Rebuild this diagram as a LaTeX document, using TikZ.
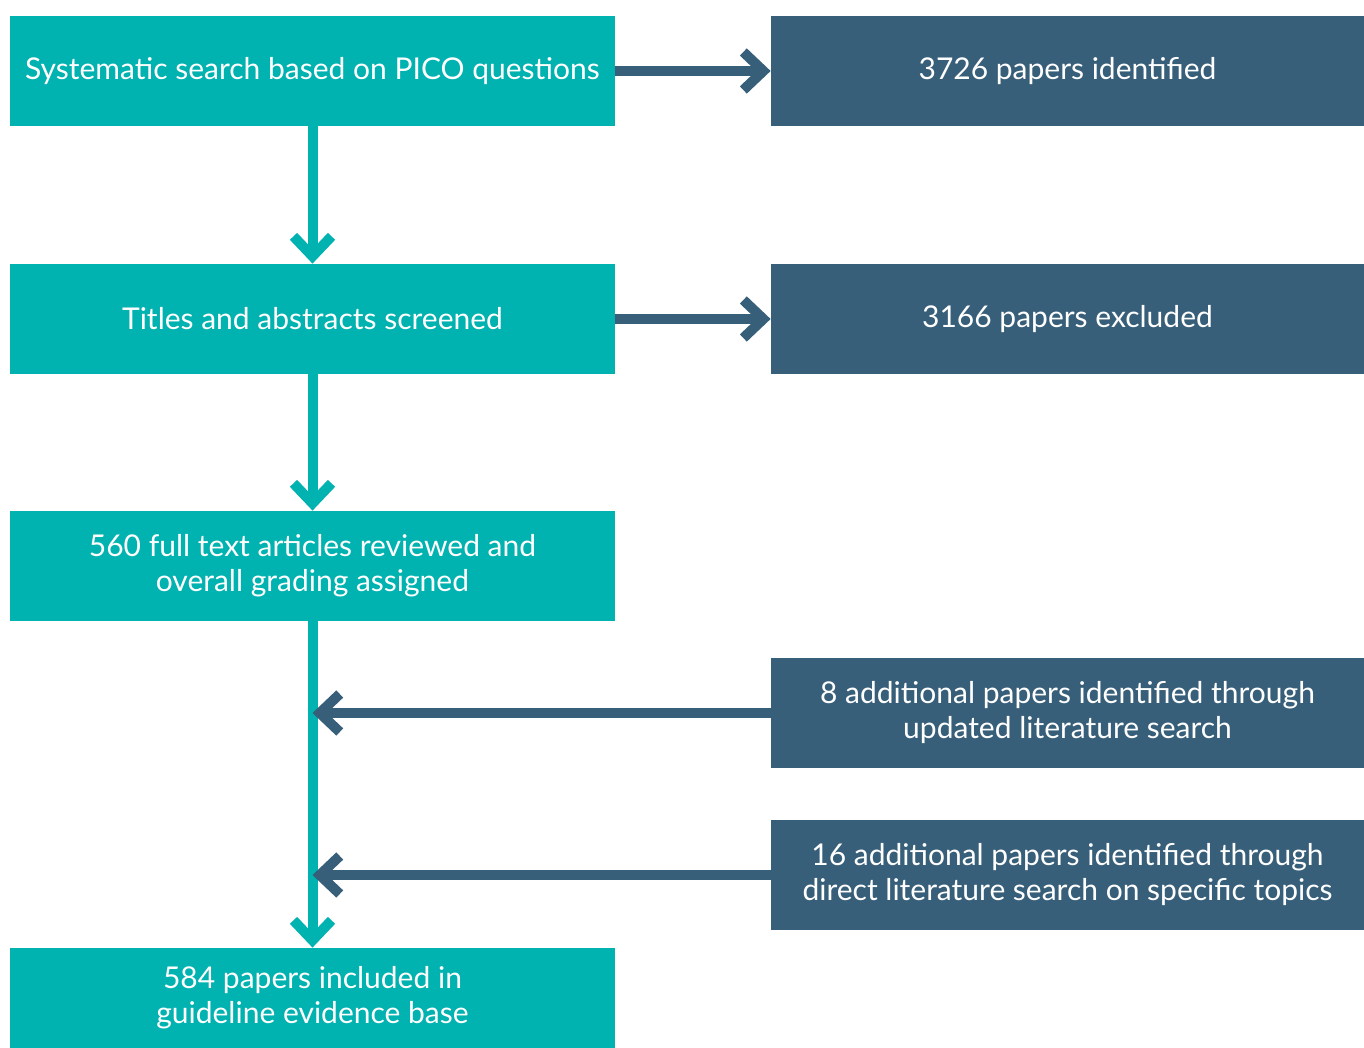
\documentclass[tikz,border=0pt]{standalone}
\usepackage{fontspec}
\setmainfont{Lato}
\usepackage{tikz}
\usetikzlibrary{arrows.meta}
\definecolor{tealbox}{RGB}{0,178,176}
\definecolor{slatebox}{RGB}{56,95,122}

\begin{document}
\begin{tikzpicture}[x=0.5pt, y=-0.5pt,
		box/.style={rectangle, inner sep=0pt, text=white, align=center,
			font=\fontsize{15}{17.5}\selectfont},
		leftbox/.style={box, fill=tealbox, minimum width=302.5pt, minimum height=55pt},
		rightbox/.style={box, fill=slatebox, minimum width=296.5pt, minimum height=55pt},
		flow/.style={tealbox, line width=5pt, -{Straight Barb[length=10pt,width=19pt]}},
		side/.style={slatebox, line width=5pt, -{Straight Barb[length=10pt,width=19pt]}} ]

	\useasboundingbox (0,0) rectangle (1364,1048);

	% left column
	\node[leftbox] (search) at (312.5,71) {Systematic search based on PICO questions};
	\node[leftbox] (screen) at (312.5,319) {Titles and abstracts screened};
	\node[leftbox] (fulltext) at (312.5,566) {560 full text articles reviewed and\\overall grading assigned};
	\node[leftbox, minimum height=50pt] (included) at (312.5,998) {584 papers included in\\guideline evidence base};

	% right column
	\node[rightbox] (found) at (1067.5,71) {3726 papers identified};
	\node[rightbox] (excluded) at (1067.5,319) {3166 papers excluded};
	\node[rightbox] (update) at (1067.5,713) {8 additional papers identified through\\updated literature search};
	\node[rightbox] (direct) at (1067.5,875) {16 additional papers identified through\\direct literature search on specific topics};

	% arrows
	\draw[side] (search.east) -- (found.west);
	\draw[side] (screen.east) -- (excluded.west);
	\draw[flow] (search.south) -- (screen.north);
	\draw[flow] (screen.south) -- (fulltext.north);
	\draw[flow] (fulltext.south) -- (included.north);
	\draw[side] (update.west) -- (update.west -| fulltext.south);
	\draw[side] (direct.west) -- (direct.west -| fulltext.south);

\end{tikzpicture}
\end{document}
